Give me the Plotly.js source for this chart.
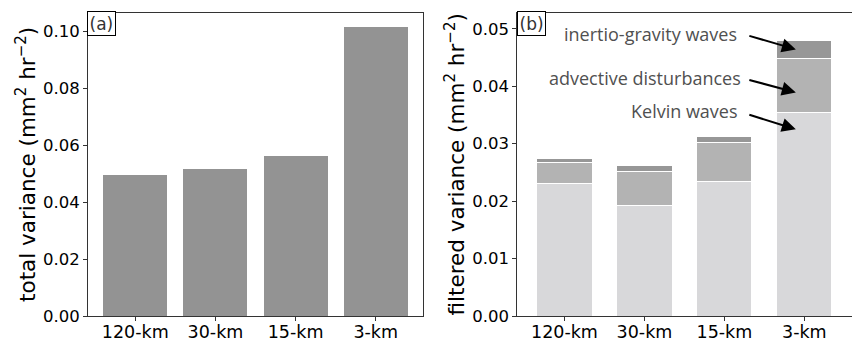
<!DOCTYPE html>
<html>
<head>
<meta charset="utf-8">
<script src="https://cdn.plot.ly/plotly-3.0.1.min.js"></script>
<style>html,body{margin:0;padding:0;background:#fff;}#chart{width:852px;height:342px;}</style>
</head>
<body>
<div id="chart"></div>
<script>
// ---- data ----
const categories = ["120-km", "30-km", "15-km", "3-km"];
const totalVariance = [0.0494, 0.0515, 0.0564, 0.1015];
const kelvinWaves = [0.0230, 0.0193, 0.0234, 0.0355];
const advectiveDisturbances = [0.0037, 0.0059, 0.0068, 0.0094];
const inertioGravityWaves = [0.0007, 0.0010, 0.0011, 0.0031];
const seriesNames = ["Kelvin waves", "advective disturbances", "inertio-gravity waves"];
const leftTicks = [0, 0.02, 0.04, 0.06, 0.08, 0.10];
const rightTicks = [0, 0.01, 0.02, 0.03, 0.04, 0.05];
// arrow targets on the 3-km bar (data coords)
const arrowTargetX = [2.894, 2.894, 2.894];
const arrowTargetY = [0.0464, 0.0389, 0.0325];

const yTickFont = {family: "DejaVu Sans", size: 16.5, color: "#000"};
const xTickFont = {family: "DejaVu Sans", size: 17.5, color: "#000"};
const titleFont = {family: "DejaVu Sans", size: 21.5, color: "#000"};
const lineCol = "#333";

const traces = [
  {type: "bar", x: categories, y: totalVariance, xaxis: "x", yaxis: "y", width: 0.8,
   marker: {color: "#939393", line: {width: 0}}, hoverinfo: "skip", showlegend: false},
  {type: "bar", name: seriesNames[0], x: categories, y: kelvinWaves, xaxis: "x2", yaxis: "y2", width: 0.69,
   marker: {color: "#d8d8da", line: {color: "#fff", width: 1}}, showlegend: false},
  {type: "bar", name: seriesNames[1], x: categories, y: advectiveDisturbances, xaxis: "x2", yaxis: "y2", width: 0.69,
   marker: {color: "#b3b3b3", line: {color: "#fff", width: 1}}, showlegend: false},
  {type: "bar", name: seriesNames[2], x: categories, y: inertioGravityWaves, xaxis: "x2", yaxis: "y2", width: 0.69,
   marker: {color: "#979797", line: {color: "#fff", width: 1}}, showlegend: false}
];

const axX = (dom, anchor) => ({
  domain: dom, anchor: anchor, type: "category", range: [-0.59, 3.59],
  showline: true, linecolor: lineCol, linewidth: 1, mirror: true,
  ticks: "outside", ticklen: 4, tickcolor: lineCol, tickfont: xTickFont,
  ticklabelstandoff: -4,
  showgrid: false, zeroline: false, fixedrange: true, automargin: false
});
const axY = (anchor, range, ticks, title) => ({
  domain: [0.076, 0.963], anchor: anchor, range: range,
  tickvals: ticks, tickformat: ".2f",
  showline: true, linecolor: lineCol, linewidth: 1, mirror: true,
  ticks: "outside", ticklen: 4, tickcolor: lineCol, tickfont: yTickFont,
  showgrid: false, zeroline: false, automargin: false,
  title: {text: title, font: titleFont, standoff: 1}
});

const annFont = {family: "Open Sans", size: 18, color: "#505050"};
const boxFont = {family: "DejaVu Sans", size: 17, color: "#333"};
const annotations = [
  {xref: "paper", yref: "paper", x: 86.5/852, y: 1 - 11/342, xanchor: "left", yanchor: "top",
   text: "(a)", showarrow: false, font: boxFont,
   bordercolor: "#000", borderwidth: 1, borderpad: 1.5, bgcolor: "#fff"},
  {xref: "paper", yref: "paper", x: 516.5/852, y: 1 - 11/342, xanchor: "left", yanchor: "top",
   text: "(b)", showarrow: false, font: boxFont,
   bordercolor: "#000", borderwidth: 1, borderpad: 1.5, bgcolor: "#fff"},
  {xref: "paper", yref: "paper", x: 739/852, y: 1 - 34/342, xanchor: "right", yanchor: "middle",
   text: seriesNames[2], showarrow: false, font: annFont},
  {xref: "paper", yref: "paper", x: 743/852, y: 1 - 78/342, xanchor: "right", yanchor: "middle",
   text: seriesNames[1], showarrow: false, font: annFont},
  {xref: "paper", yref: "paper", x: 739.5/852, y: 1 - 111/342, xanchor: "right", yanchor: "middle",
   text: seriesNames[0], showarrow: false, font: annFont}
];
const tails = [[-48, -14], [-48, -13], [-48, -15]];
for (let i = 0; i < 3; i++) {
  annotations.push({xref: "x2", yref: "y2", x: arrowTargetX[i], y: arrowTargetY[i], text: "",
    showarrow: true, ax: tails[i][0], ay: tails[i][1], arrowhead: 2, arrowsize: 1.4,
    arrowwidth: 2, arrowcolor: "#000", standoff: 0, startstandoff: 0});
}

const layout = {
  width: 852, height: 342,
  margin: {l: 0, r: 0, t: 0, b: 0},
  paper_bgcolor: "#fff", plot_bgcolor: "#fff",
  barmode: "stack", bargap: 0.2,
  showlegend: false,
  xaxis: axX([88/852, 423/852], "y"),
  yaxis: axY("x", [0, 0.1066], leftTicks, "total variance (mm<sup>2</sup> hr<sup>−2</sup>)"),
  xaxis2: axX([517.3/852, 851.5/852], "y2"),
  yaxis2: axY("x2", [0, 0.0528], rightTicks, "filtered variance (mm<sup>2</sup> hr<sup>−2</sup>)"),
  annotations: annotations
};

Plotly.newPlot("chart", traces, layout, {staticPlot: true, displayModeBar: false});
</script>
</body>
</html>
